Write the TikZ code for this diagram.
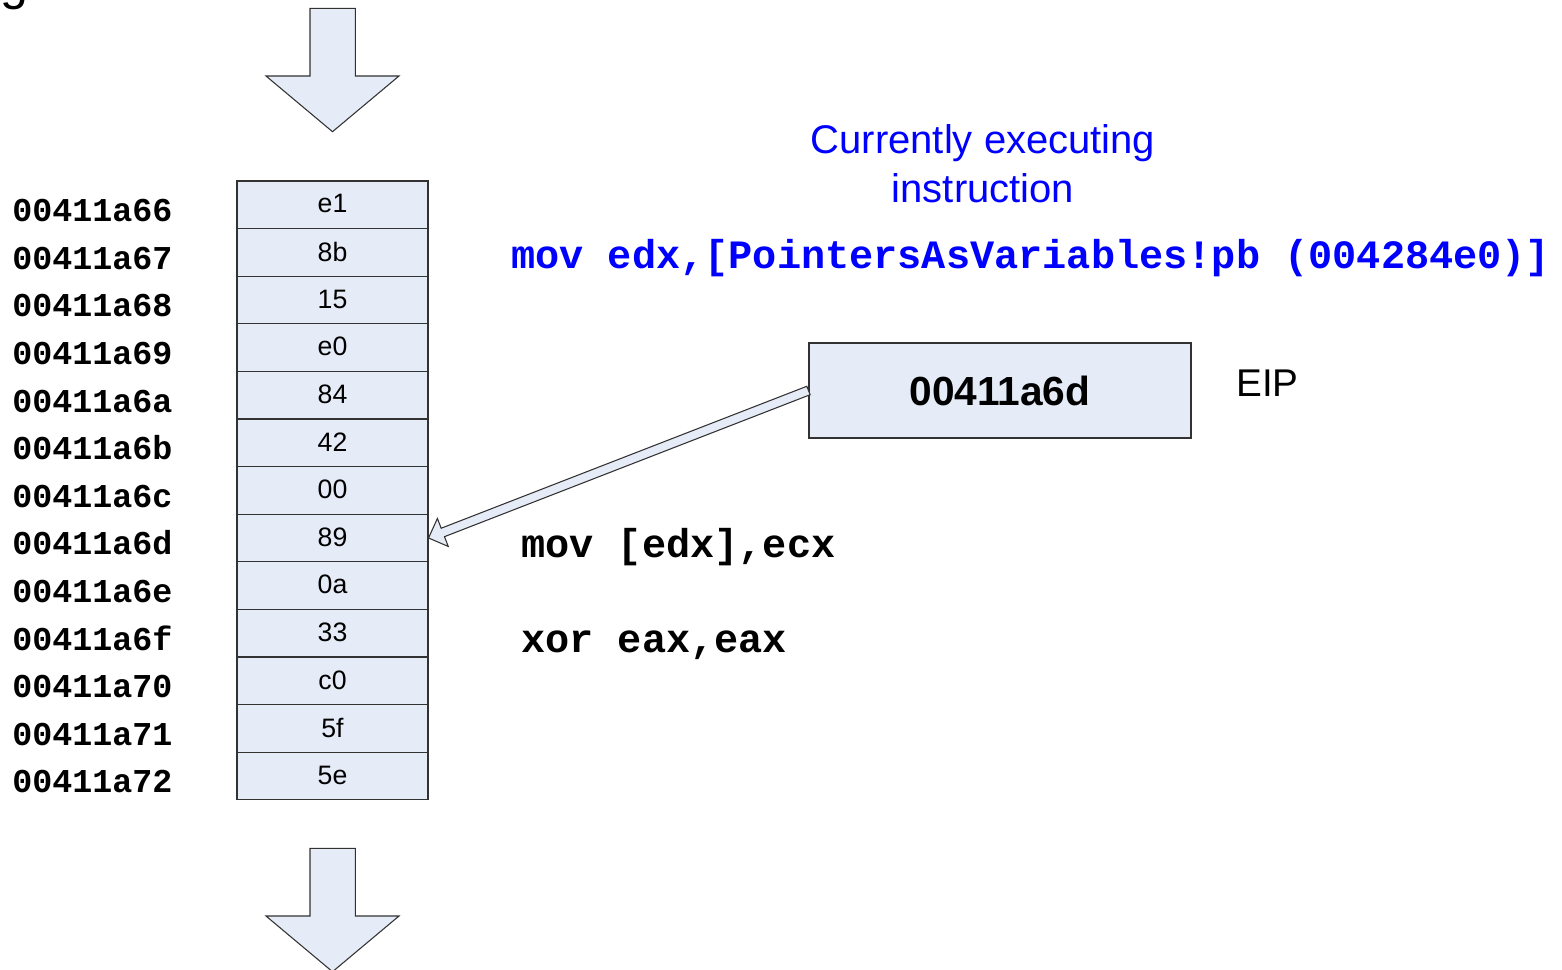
\documentclass[tikz,border=0pt]{standalone}
\usepackage{fontspec}
\setmainfont{Liberation Sans}
\setmonofont{Liberation Mono}
\usetikzlibrary{calc}
\definecolor{cellfill}{RGB}{230,236,247}
\definecolor{edgegray}{RGB}{50,50,50}
\definecolor{codeblue}{RGB}{0,0,255}
\tikzset{
  cell/.style={draw=edgegray, line width=0.8pt, fill=cellfill, minimum width=143.25pt, minimum height=35.7pt, inner sep=0pt, font=\fontsize{20}{24}\selectfont},
  addr/.style={anchor=base west, inner sep=0pt, font=\fontsize{25}{30}\selectfont\ttfamily\bfseries},
  code/.style={anchor=base west, inner sep=0pt, font=\fontsize{30.2}{36}\selectfont\ttfamily\bfseries},
  blocky/.style={draw=edgegray, line width=0.8pt, fill=cellfill, line join=miter},
  regbox/.style={draw=edgegray, line width=0.8pt, fill=cellfill, minimum width=286.5pt, minimum height=71.25pt, inner sep=0pt, font=\fontsize{30.5}{36}\selectfont\bfseries},
  note/.style={anchor=base, inner sep=0pt, text=codeblue, font=\fontsize{30}{36}\selectfont}
}
\begin{document}
\begin{tikzpicture}[x=0.75pt,y=-0.75pt]
\useasboundingbox (0,0) rectangle (1562,970);
% fragment of a title above the picture
\node[anchor=base west, inner sep=0pt, font=\fontsize{37.5}{44}\selectfont] (gfrag) at (0,-0.5) {g};
% flow arrows
\foreach \dy in {0,840}{
  \draw[blocky] (310,8.3+\dy) -- (355.3,8.3+\dy) -- (355.3,76+\dy) -- (399,76+\dy) -- (332.5,131.7+\dy) -- (266,76+\dy) -- (310,76+\dy) -- cycle;
}
% memory cells and addresses
\foreach \v [count=\i] in {e1,8b,15,e0,84,42,00,89,0a,33,c0,5f,5e}{
  \node[cell] (c\i) at (332.5,{181+47.6*(\i-0.5)}) {\raisebox{1.5pt}{\v}};
}
\foreach \a [count=\i] in {66,67,68,69,6a,6b,6c,6d,6e,6f,70,71,72}{
  \node[addr] (a\i) at (12,{181+47.6*(\i-0.5)+16.8}) {00411a\a};
}
% notes and code
\node[note] (cur1) at (983,153) {Currently executing};
\node[note] (cur2) at (983,202) {instruction};
\node[code, text=codeblue] (instr) at (511,268.5) {mov edx,[PointersAsVariables!pb (004284e0)]};
\node[code] (next1) at (521,557) {mov [edx],ecx};
\node[code] (next2) at (521,652) {xor eax,eax};
% EIP register
\node[regbox] (eip) at (1000,390.5) {00411a6d};
\node[anchor=west, inner sep=0pt, font=\fontsize{29}{34}\selectfont] (eiplbl) at (1236,383) {EIP};
% pointer arrow from EIP to the cell
\coordinate (S) at (eip.west);
\coordinate (T) at (c8.east);
\coordinate (H) at ($(T)!11.5pt!(S)$);
\draw[blocky] ($(S)!3.4pt!90:(T)$) -- ($(H)!3.4pt!90:(T)$) -- ($(H)!11.25pt!90:(T)$) -- (T) -- ($(H)!11.25pt!-90:(T)$) -- ($(H)!3.4pt!-90:(T)$) -- ($(S)!3.4pt!-90:(T)$) -- cycle;
\end{tikzpicture}
\end{document}
